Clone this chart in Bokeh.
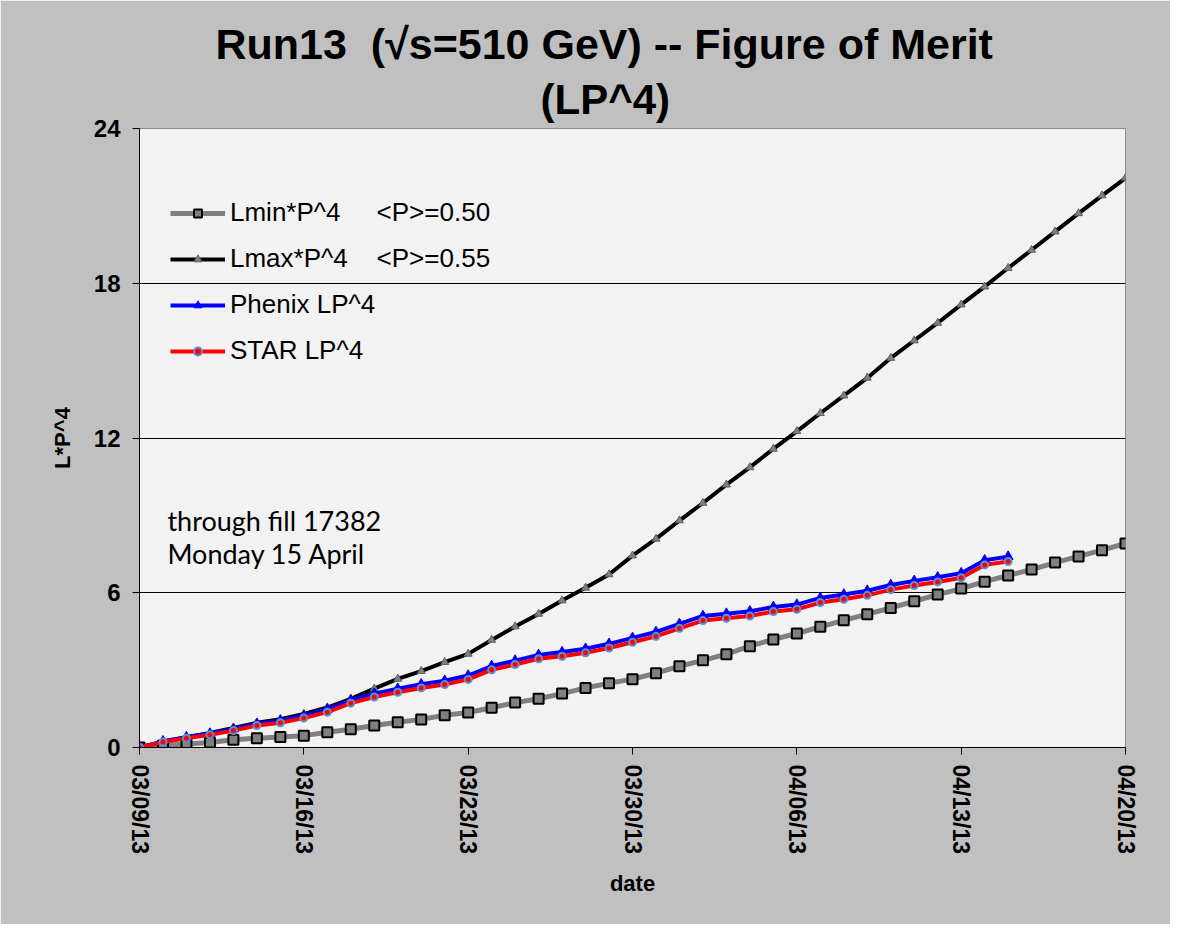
import math
import pandas as pd
from bokeh.plotting import figure
from bokeh.models import Range1d, FixedTicker, DatetimeTickFormatter, Label, Title
from bokeh.embed import file_html
from bokeh.resources import INLINE

# ---------------- data ----------------
start_date = "2013-03-09"
tick_dates = ["2013-03-09", "2013-03-16", "2013-03-23", "2013-03-30",
              "2013-04-06", "2013-04-13", "2013-04-20"]
y_ticks = [0, 6, 12, 18, 24]

lmin = [0, 0.08, 0.14, 0.19, 0.30, 0.36, 0.41, 0.46, 0.59, 0.71, 0.85,
        0.98, 1.09, 1.25, 1.36, 1.54, 1.74, 1.89, 2.09, 2.31, 2.49, 2.65,
        2.88, 3.15, 3.38, 3.62, 3.93, 4.19, 4.42, 4.68, 4.93, 5.17, 5.41,
        5.67, 5.93, 6.16, 6.43, 6.67, 6.90, 7.17, 7.41, 7.65, 7.91]
lmax = [0, 0.22, 0.40, 0.56, 0.76, 0.96, 1.10, 1.30, 1.55, 1.89, 2.28,
        2.66, 2.96, 3.31, 3.63, 4.17, 4.69, 5.18, 5.70, 6.19, 6.71, 7.44,
        8.09, 8.80, 9.48, 10.19, 10.86, 11.58, 12.26, 12.96, 13.64, 14.33, 15.10,
        15.78, 16.46, 17.17, 17.87, 18.59, 19.29, 20.00, 20.71, 21.40, 22.08]
phenix = [0, 0.24, 0.40, 0.54, 0.72, 0.92, 1.04, 1.23, 1.48, 1.84, 2.09,
          2.28, 2.45, 2.59, 2.79, 3.16, 3.37, 3.59, 3.70, 3.83, 4.02, 4.25,
          4.48, 4.79, 5.10, 5.19, 5.28, 5.45, 5.54, 5.80, 5.93, 6.08, 6.30,
          6.46, 6.60, 6.76, 7.26, 7.40]
star = [0, 0.21, 0.36, 0.49, 0.66, 0.85, 0.96, 1.14, 1.37, 1.72, 1.96,
        2.14, 2.31, 2.44, 2.64, 3.01, 3.22, 3.44, 3.54, 3.67, 3.86, 4.08,
        4.31, 4.62, 4.92, 5.01, 5.10, 5.27, 5.36, 5.62, 5.75, 5.90, 6.12,
        6.28, 6.42, 6.58, 7.08, 7.21]

dates_all = pd.date_range(start_date, periods=len(lmin), freq="D")
dates_run = dates_all[:len(star)]

sp = "\u00a0"
title_1 = "Run13" + sp * 2 + "(\u221as=510 GeV) -- Figure of Merit"
title_2 = "(LP^4)"
note_1 = "through fill 17382"
note_2 = "Monday 15 April"
lab_lmin = "Lmin*P^4" + sp * 5 + "<P>=0.50"
lab_lmax = "Lmax*P^4" + sp * 4 + "<P>=0.55"
lab_phenix = "Phenix LP^4"
lab_star = "STAR LP^4"

# ---------------- figure ----------------
t0 = pd.Timestamp(tick_dates[0])
t1 = pd.Timestamp(tick_dates[-1])
day_ms = 86400000.0

p = figure(width=1170, height=924, x_axis_type="datetime", title=None,
           x_range=Range1d(t0, t1), y_range=Range1d(0, 24),
           output_backend="svg", toolbar_location=None,
           min_border_left=139, min_border_right=45,
           min_border_top=128, min_border_bottom=177)

p.background_fill_color = "#f2f2f2"
p.border_fill_color = "#c0c0c0"
p.outline_line_color = "#8c8c8c"
p.outline_line_width = 1

p.xgrid.grid_line_color = None
p.ygrid.grid_line_color = "black"
p.ygrid.grid_line_width = 1

FONT = "Liberation Sans"

# x axis
p.xaxis.ticker = FixedTicker(ticks=[pd.Timestamp(d).value / 1e6 for d in tick_dates])
fmt = "%m/%d/%y"
p.xaxis.formatter = DatetimeTickFormatter(days=fmt, months=fmt, years=fmt,
                                          hours=fmt, minutes=fmt, seconds=fmt,
                                          milliseconds=fmt, microseconds=fmt,
                                          hourmin=fmt, minsec=fmt)
p.xaxis.major_label_orientation = -math.pi / 2
p.xaxis.axis_label = "date"
p.xaxis.axis_label_text_font = FONT
p.xaxis.axis_label_text_font_style = "bold"
p.xaxis.axis_label_text_font_size = "22px"
p.xaxis.axis_label_standoff = 14

# y axis
p.yaxis.ticker = FixedTicker(ticks=y_ticks)
p.yaxis.axis_label = "L*P^4"
p.yaxis.axis_label_text_font = FONT
p.yaxis.axis_label_text_font_style = "bold"
p.yaxis.axis_label_text_font_size = "22px"
p.yaxis.axis_label_standoff = 16

for ax in (p.xaxis[0], p.yaxis[0]):
    ax.axis_line_color = "black"
    ax.axis_line_width = 1
    ax.major_tick_line_color = "black"
    ax.major_tick_out = 7
    ax.major_tick_in = 0
    ax.minor_tick_line_color = None
    ax.major_label_text_font = FONT
    ax.major_label_text_font_style = "bold"
    ax.major_label_text_font_size = "24px"
    ax.major_label_text_color = "black"
    ax.axis_label_text_color = "black"
p.xaxis.major_label_text_font_size = "23px"
p.xaxis.major_label_standoff = 10
p.yaxis.major_label_standoff = 12

# ---------------- series ----------------
p.line(dates_all, lmin, line_color="#808080", line_width=5, legend_label=lab_lmin)
p.scatter(dates_all, lmin, marker="square", size=10, fill_color="#808080",
          line_color="black", line_width=2, legend_label=lab_lmin)

p.line(dates_all, lmax, line_color="black", line_width=4, legend_label=lab_lmax)
p.scatter(dates_all, lmax, marker="triangle", size=8, fill_color="#808080",
          line_color="#606060", line_width=1, legend_label=lab_lmax)

p.line(dates_run, phenix, line_color="#0000ff", line_width=4, legend_label=lab_phenix)
p.scatter(dates_run, phenix, marker="triangle", size=10, fill_color="#0000ff",
          line_color="#0000ff", line_width=1, legend_label=lab_phenix)

p.line(dates_run, star, line_color="#ff0000", line_width=4, legend_label=lab_star)
p.scatter(dates_run, star, marker="circle", size=7, fill_color="#ff0000",
          line_color="#5b8fd0", line_width=2, legend_label=lab_star)

lg = p.legend[0]
lg.location = (31, 381)
lg.background_fill_alpha = 0
lg.border_line_alpha = 0
lg.padding = 0
lg.margin = 0
lg.spacing = 15
lg.glyph_width = 55
lg.glyph_height = 20
lg.label_height = 20
lg.label_standoff = 5
lg.label_text_font = FONT
lg.label_text_font_size = "26px"
lg.label_text_color = "black"

# ---------------- titles and notes ----------------
p.add_layout(Title(text=title_2, text_font=FONT, text_font_style="bold",
                   text_font_size="42px", align="left", offset=401,
                   standoff=12, text_color="black"), "above")
p.add_layout(Title(text=title_1, text_font=FONT, text_font_style="bold",
                   text_font_size="43px", align="left", offset=76,
                   standoff=0, text_color="black"), "above")


def xd(days):
    return t0.value / 1e6 + days * day_ms


p.add_layout(Label(x=xd(1.19), y=8.8, text=note_1, text_font="Lato",
                   text_font_size="27px", text_align="left",
                   text_baseline="middle", text_color="black"))
p.add_layout(Label(x=xd(1.19), y=7.52, text=note_2, text_font="Lato",
                   text_font_size="27px", text_align="left",
                   text_baseline="middle", text_color="black"))

open("out.html", "w").write(file_html(p, INLINE))
